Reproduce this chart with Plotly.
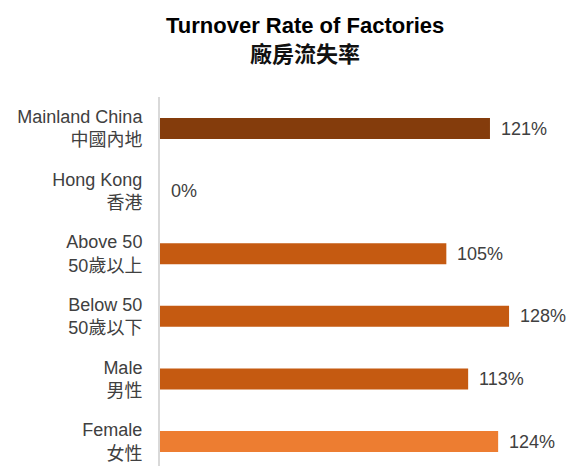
import plotly.graph_objects as go

categories_en = ["Mainland China", "Hong Kong", "Above 50", "Below 50", "Male", "Female"]
categories_zh = ["中國內地", "香港", "50歲以上", "50歲以下", "男性", "女性"]
values = [121, 0, 105, 128, 113, 124]
colors = ["#843C0C", "#843C0C", "#C55A11", "#C55A11", "#C55A11", "#ED7D31"]
title_en = "Turnover Rate of Factories"
title_zh = "廠房流失率"

W, H = 571, 466
FONT = "Liberation Sans, Arial, Noto Sans CJK TC, sans-serif"

pos = list(range(len(values)))
ticktext = [f"{e}<br>{z}" for e, z in zip(categories_en, categories_zh)]

fig = go.Figure()
fig.add_trace(go.Bar(
    x=values, y=pos, orientation="h",
    marker=dict(color=colors, line=dict(width=0)),
    width=0.335, hoverinfo="skip",
))

annotations = []
for v, p in zip(values, pos):
    annotations.append(dict(
        x=v, y=p, xref="x", yref="y", text=f"{v}%", showarrow=False,
        xanchor="left", yanchor="middle", xshift=9,
        font=dict(family=FONT, size=18, color="#404040"),
    ))

plot_h = H - 97
plot_w = W - 160
title_x = (305 - 160) / plot_w
annotations.append(dict(
    x=title_x, xref="paper", y=(H - 26) / plot_h, yref="paper",
    text=f"<b>{title_en}</b>", showarrow=False, xanchor="center", yanchor="middle",
    font=dict(family=FONT, size=22, color="black"),
))
annotations.append(dict(
    x=title_x, xref="paper", y=(H - 54.5) / plot_h, yref="paper",
    text=f"<b>{title_zh}</b>", showarrow=False, xanchor="center", yanchor="middle",
    font=dict(family=FONT, size=22, color="#111111"),
))

fig.update_layout(
    width=W, height=H,
    margin=dict(l=160, r=0, t=97, b=0),
    paper_bgcolor="white", plot_bgcolor="white",
    showlegend=False,
    annotations=annotations,
    xaxis=dict(range=[0, 411 / 2.727], visible=False, showgrid=False, zeroline=False),
    yaxis=dict(
        range=[5.39, -0.503], tickmode="array", tickvals=pos, ticktext=ticktext,
        showline=True, linecolor="#d9d9d9", linewidth=2, showgrid=False, zeroline=False,
        ticks="", ticklabelstandoff=12,
        tickfont=dict(family=FONT, size=18, color="#404040"),
    ),
)

fig.write_html("out.html", config={"displayModeBar": False},
               post_script="document.body.style.margin='0';")
